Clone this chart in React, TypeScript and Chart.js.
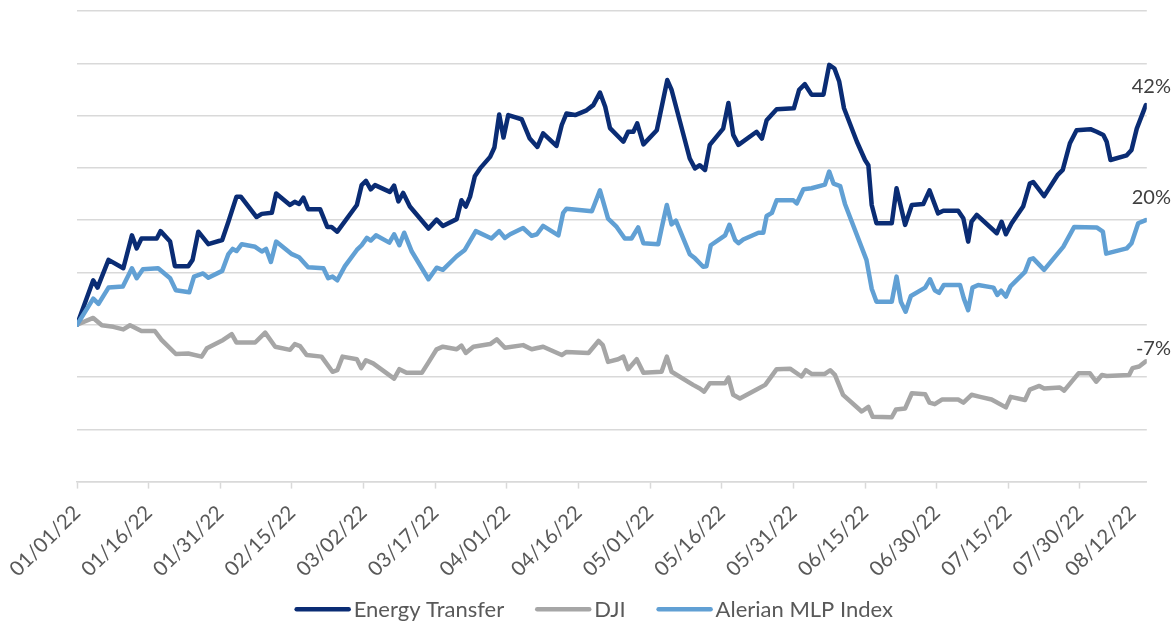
import React, { useEffect, useRef } from 'react';
import { Chart, registerables } from 'chart.js';

Chart.register(...registerables);

// ---- data (x = days since 01/01/22, y = % change) ----
const seriesNames = ['Energy Transfer', 'DJI', 'Alerian MLP Index'];
const seriesColors = ['#0A2C74', '#A6A6A6', '#61A0D4'];

const tickDays = [0, 15, 30, 45, 60, 75, 90, 105, 120, 135, 150, 165, 180, 195, 210, 221];
const tickLabels = [
  '01/01/22', '01/16/22', '01/31/22', '02/15/22', '03/02/22', '03/17/22', '04/01/22', '04/16/22',
  '05/01/22', '05/16/22', '05/31/22', '06/15/22', '06/30/22', '07/15/22', '07/30/22', '08/12/22',
];

const energyTransfer: [number, number][] = [
  [0, 0], [3.4, 8.5], [4.3, 7.1], [6.6, 12.4], [9.7, 10.8], [11.5, 17.1], [12.5, 14.6], [13.5, 16.5],
  [16.7, 16.5], [17.5, 17.9], [19.5, 15.9], [20.5, 11.2], [23.3, 11.2], [24.2, 12.4], [25.4, 17.8],
  [27.5, 15.4], [30.4, 16.2], [31.7, 19.7], [33.4, 24.5], [34.3, 24.5], [37.6, 20.6], [38.7, 21.2],
  [40.8, 21.4], [41.7, 25.1], [44.6, 22.9], [45.6, 23.5], [46.5, 23.1], [47.4, 24.3], [48.4, 22.1],
  [50.9, 22.1], [52.4, 18.7], [53.3, 18.7], [54.5, 17.8], [58.6, 22.9], [59.6, 26.7], [60.5, 27.5],
  [61.5, 25.9], [62.4, 26.7], [65.5, 25.4], [66.4, 26.6], [67.3, 23.6], [68.3, 25.2], [69.7, 22.6],
  [73.6, 18.4], [75.3, 20.1], [76.6, 18.9], [79.5, 20.2], [80.5, 23.8], [81.4, 22.6], [82.3, 24.5],
  [83.3, 28.4], [84.4, 29.9], [86.5, 32.1], [87.4, 33.9], [88.4, 40.2], [89.3, 35.8], [90.3, 40.1],
  [93.1, 39.3], [94.8, 35.6], [96.4, 34.0], [97.6, 36.6], [100.4, 34.2], [101.5, 38.2], [102.5, 40.4],
  [104.3, 40.1], [106.7, 41.0], [108.1, 42.0], [109.5, 44.4], [110.6, 41.7], [111.6, 37.6], [114.4, 35.0],
  [115.4, 36.9], [116.5, 36.9], [117.3, 38.5], [118.6, 34.5], [121.4, 37.2], [123.6, 46.8], [124.5, 44.9],
  [128.3, 31.8], [129.4, 29.9], [130.4, 30.5], [131.5, 29.6], [132.5, 34.4], [135.3, 37.5], [136.4, 42.4],
  [137.4, 36.3], [138.5, 34.4], [142.3, 36.9], [143.4, 35.6], [144.4, 39.1], [146.5, 41.2], [150.1, 41.4],
  [151.2, 44.9], [152.4, 46.0], [153.8, 44.0], [156.3, 44.0], [157.5, 49.7], [158.6, 49.0], [159.6, 46.5],
  [160.6, 41.4], [163.3, 35.0], [165.0, 31.5], [165.7, 30.5], [166.4, 22.9], [167.4, 19.4], [170.6, 19.4],
  [171.6, 26.1], [173.4, 19.1], [174.8, 22.9], [177.2, 23.1], [178.5, 25.7], [180.3, 21.3], [181.4, 21.8],
  [184.5, 21.8], [185.6, 20.3], [186.6, 15.9], [187.3, 19.7], [188.4, 21.0], [192.6, 17.5], [193.6, 19.7],
  [194.5, 17.3], [195.7, 19.4], [198.1, 22.6], [199.5, 27.0], [200.2, 27.3], [202.5, 24.6], [205.3, 28.6],
  [206.4, 29.6], [207.9, 34.7], [209.3, 37.2], [212.2, 37.4], [213.5, 36.9], [214.9, 36.3], [215.6, 35.0],
  [216.4, 31.5], [219.8, 32.4], [220.8, 33.4], [221.9, 37.5], [223.8, 42.0],
];

const dji: [number, number][] = [
  [0, 0], [3.4, 1.3], [5.2, -0.1], [7.6, -0.4], [9.7, -0.9], [11.1, -0.1], [13.5, -1.2], [16.3, -1.2],
  [17.7, -2.9], [20.7, -5.6], [23.3, -5.5], [26.1, -6.1], [27.2, -4.5], [30.6, -2.9], [32.4, -1.8],
  [33.4, -3.4], [37.3, -3.4], [39.4, -1.5], [41.5, -4.2], [44.6, -4.8], [45.6, -3.7], [46.7, -4.1],
  [48.1, -5.8], [51.2, -6.1], [53.5, -9.0], [54.5, -8.7], [55.6, -6.1], [58.6, -6.6], [59.5, -8.3],
  [60.5, -6.8], [62.0, -7.4], [66.4, -10.3], [67.5, -8.5], [69.0, -9.2], [72.2, -9.2], [73.6, -7.2],
  [75.3, -4.7], [76.6, -4.2], [79.5, -4.7], [80.5, -4.0], [81.4, -5.4], [83.0, -4.2], [86.5, -3.7],
  [87.9, -2.8], [89.6, -4.4], [93.4, -3.9], [95.2, -4.7], [97.6, -4.2], [101.5, -5.8], [102.5, -5.2],
  [107.1, -5.4], [109.2, -3.1], [110.1, -3.9], [111.2, -7.1], [113.3, -6.6], [114.4, -6.1], [115.4, -8.5],
  [117.2, -6.6], [118.6, -9.2], [122.4, -9.0], [123.5, -6.1], [124.5, -9.0], [129.0, -11.5], [130.4, -12.2],
  [131.3, -12.8], [132.5, -11.2], [135.7, -11.2], [136.4, -10.1], [137.4, -13.4], [138.8, -14.1],
  [142.3, -12.4], [144.1, -11.5], [146.5, -8.5], [149.3, -8.4], [151.7, -9.9], [152.6, -8.7], [153.8, -9.4],
  [156.6, -9.4], [157.7, -8.7], [158.7, -9.6], [160.4, -13.4], [164.3, -16.6], [165.7, -15.7], [166.6, -17.6],
  [170.6, -17.7], [171.5, -16.2], [173.4, -16.0], [174.8, -13.1], [177.6, -13.3], [178.5, -14.9],
  [179.6, -15.2], [181.1, -14.3], [184.5, -14.3], [185.6, -14.9], [187.3, -13.4], [189.1, -13.8],
  [191.5, -14.3], [194.5, -15.8], [195.5, -13.8], [198.5, -14.4], [199.5, -12.4], [201.5, -11.7],
  [202.5, -12.2], [205.8, -12.0], [206.7, -12.6], [209.7, -9.3], [212.1, -9.3], [213.4, -10.9],
  [214.6, -9.6], [215.6, -9.8], [220.3, -9.6], [221.0, -8.3], [222.4, -8.0], [223.8, -7.0],
];

const alerianMlp: [number, number][] = [
  [0, 0], [3.4, 5.0], [4.5, 4.0], [6.6, 7.1], [9.6, 7.3], [11.5, 10.8], [12.5, 8.9], [13.8, 10.6],
  [17.0, 10.8], [19.5, 8.9], [20.7, 6.6], [23.5, 6.2], [24.5, 9.2], [26.4, 9.8], [27.5, 9.0], [30.4, 10.3],
  [31.7, 13.5], [32.6, 14.5], [33.4, 14.1], [34.5, 15.4], [37.3, 14.9], [38.7, 14.0], [39.6, 14.5],
  [40.6, 12.0], [41.7, 15.9], [45.0, 13.5], [46.5, 12.9], [48.4, 11.0], [51.6, 10.8], [52.6, 8.9],
  [53.5, 9.2], [54.5, 8.5], [56.1, 11.2], [58.6, 14.3], [59.6, 15.2], [60.7, 16.6], [61.5, 16.1],
  [62.6, 17.1], [65.4, 15.7], [66.4, 17.3], [67.5, 15.2], [68.5, 17.6], [70.1, 14.0], [73.6, 8.7],
  [75.3, 10.9], [76.6, 10.5], [79.5, 13.1], [81.2, 14.3], [83.5, 17.9], [86.8, 16.5], [88.4, 17.9],
  [89.6, 16.6], [90.7, 17.3], [93.4, 18.5], [95.2, 17.0], [96.3, 17.3], [97.6, 18.9], [100.8, 17.1],
  [101.8, 21.4], [102.5, 22.2], [107.8, 21.7], [109.5, 25.7], [111.2, 20.3], [113.0, 18.7], [114.7, 16.5],
  [116.1, 16.5], [117.5, 18.6], [118.6, 15.6], [121.7, 15.4], [122.4, 18.4], [123.5, 22.9], [124.5, 19.2],
  [125.4, 19.9], [128.3, 13.5], [129.4, 12.7], [131.1, 11.1], [131.8, 11.2], [132.7, 15.2], [135.7, 17.1],
  [136.6, 19.1], [137.8, 16.2], [138.5, 15.6], [139.5, 16.3], [142.7, 17.6], [143.7, 17.6], [144.4, 20.8],
  [145.5, 21.4], [146.5, 23.8], [150.0, 23.8], [150.7, 23.2], [152.1, 25.9], [153.8, 26.1], [156.6, 26.8],
  [157.5, 29.3], [158.4, 27.0], [159.8, 26.5], [160.8, 23.1], [165.3, 12.4], [166.4, 6.9], [167.4, 4.4],
  [170.6, 4.4], [171.6, 9.2], [172.5, 4.4], [173.5, 2.5], [174.6, 5.5], [177.6, 7.1], [178.6, 8.7],
  [179.6, 6.6], [180.5, 6.1], [181.5, 7.6], [184.9, 7.6], [185.7, 5.0], [186.6, 2.8], [187.5, 7.1],
  [188.7, 7.6], [191.9, 7.1], [192.7, 5.7], [193.5, 6.5], [194.5, 5.4], [195.5, 7.4], [198.5, 10.1],
  [199.5, 12.5], [200.2, 12.7], [202.5, 10.5], [206.5, 14.9], [208.8, 18.7], [213.5, 18.6], [214.8, 17.8],
  [215.5, 13.6], [219.8, 14.6], [220.8, 15.6], [222.2, 19.4], [223.8, 20.0],
];

// vertical lift (px) of each end-of-line value label above its last point
const endLabelLift = [11.7, 6.3, 16];

const FONT = 'Lato';

const endLabelPlugin = {
  id: 'endLabels',
  afterDatasetsDraw(chart: any) {
    const ctx = chart.ctx;
    ctx.save();
    ctx.font = `20px ${FONT}`;
    ctx.fillStyle = '#404040';
    ctx.textAlign = 'right';
    ctx.textBaseline = 'alphabetic';
    chart.data.datasets.forEach((ds: any, i: number) => {
      const meta = chart.getDatasetMeta(i);
      const pt = meta.data[meta.data.length - 1];
      const v = ds.data[ds.data.length - 1].y;
      ctx.fillText(`${Math.round(v)}%`, chart.width - 2, pt.y - endLabelLift[i]);
    });
    ctx.restore();
  },
};

const bottomLegendPlugin = {
  id: 'bottomLegend',
  afterDraw(chart: any) {
    const ctx = chart.ctx;
    ctx.save();
    ctx.font = `22px ${FONT}`;
    const lineLen = 52;
    const textGap = 5;
    const itemGap = 33;
    const cap = 2.25;
    const items = chart.data.datasets.map((ds: any) => ({
      text: ds.label,
      color: ds.borderColor,
      lw: ds.borderWidth,
      w: ctx.measureText(ds.label).width,
    }));
    const total =
      items.reduce((s: number, it: any) => s + lineLen + textGap + it.w, 0) + itemGap * (items.length - 1);
    const centerX = 593.7;
    let x = centerX - (total + cap) / 2 + cap;
    const lineY = 609.3;
    const baseY = 616.5;
    items.forEach((it: any) => {
      ctx.beginPath();
      ctx.strokeStyle = it.color;
      ctx.lineWidth = it.lw;
      ctx.lineCap = 'round';
      ctx.moveTo(x, lineY);
      ctx.lineTo(x + lineLen, lineY);
      ctx.stroke();
      x += lineLen + textGap;
      ctx.fillStyle = '#595959';
      ctx.textAlign = 'left';
      ctx.textBaseline = 'alphabetic';
      ctx.fillText(it.text, x, baseY);
      x += it.w + itemGap;
    });
    ctx.restore();
  },
};

const toPoints = (arr: [number, number][]) => arr.map(([x, y]) => ({ x, y }));

export default function App() {
  const canvasRef = useRef<HTMLCanvasElement | null>(null);

  useEffect(() => {
    const canvas = canvasRef.current;
    if (!canvas) return;
    const seriesData = [energyTransfer, dji, alerianMlp];
    const drawOrder = [2, 1, 0];
    const chart = new Chart(canvas, {
      type: 'line',
      data: {
        datasets: seriesNames.map((name, i) => ({
          label: name,
          data: toPoints(seriesData[i]),
          borderColor: seriesColors[i],
          backgroundColor: seriesColors[i],
          borderWidth: 4.5,
          pointRadius: 0,
          pointHoverRadius: 0,
          tension: 0,
          borderJoinStyle: 'round',
          borderCapStyle: 'round',
          fill: false,
          order: drawOrder[i],
        })),
      },
      options: {
        responsive: false,
        animation: false,
        devicePixelRatio: 1,
        layout: { padding: { left: 77, right: 26.2, top: 11, bottom: 31.4 } },
        plugins: {
          legend: { display: false },
          tooltip: { enabled: false },
        },
        scales: {
          x: {
            type: 'linear',
            min: 0,
            max: 224,
            afterBuildTicks: (scale: any) => {
              scale.ticks = tickDays.map((v) => ({ value: v }));
            },
            afterFit: (scale: any) => {
              scale.height = 110;
            },
            ticks: {
              autoSkip: false,
              minRotation: 45,
              maxRotation: 45,
              padding: 12,
              color: '#595959',
              font: { family: FONT, size: 20.5 },
              callback: (_v: any, index: number) => tickLabels[index],
            },
            grid: {
              drawOnChartArea: false,
              drawTicks: true,
              tickLength: 7,
              tickWidth: 1.5,
              color: '#d9d9d9',
              tickColor: (c: any) => (c.index === tickDays.length - 1 ? 'rgba(0,0,0,0)' : '#d9d9d9'),
            },
            border: { display: true, color: '#d9d9d9', width: 1.5 },
          },
          y: {
            min: -30,
            max: 60,
            ticks: { display: false, stepSize: 10 },
            grid: { color: '#d9d9d9', lineWidth: 1.5, drawTicks: false },
            border: { display: false },
          },
        },
      },
      plugins: [endLabelPlugin, bottomLegendPlugin],
    } as any);
    return () => chart.destroy();
  }, []);

  return (
    <div style={{ position: 'fixed', left: 0, top: 0, width: 1173, height: 623, background: '#ffffff' }}>
      <canvas ref={canvasRef} width={1173} height={623} style={{ display: 'block' }} />
    </div>
  );
}
